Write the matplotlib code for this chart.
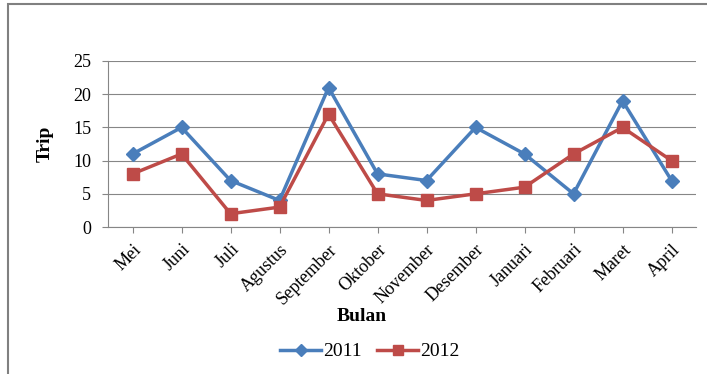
import matplotlib.pyplot as plt
from matplotlib.patches import Rectangle

plt.rcParams['font.family'] = ['Liberation Serif', 'DejaVu Serif']

months = ["Mei", "Juni", "Juli", "Agustus", "September", "Oktober", "November",
          "Desember", "Januari", "Februari", "Maret", "April"]
trip_2011 = [11, 15, 7, 4, 21, 8, 7, 15, 11, 5, 19, 7]
trip_2012 = [8, 11, 2, 3, 17, 5, 4, 5, 6, 11, 15, 10]

fig = plt.figure(figsize=(7.07, 3.74), dpi=100)
ax = fig.add_axes([0.1528, 0.393, 0.8317, 0.4439])

# outer frame of the chart
fig.patches.append(Rectangle((0.012, -0.05), 1.1, 1.04, transform=fig.transFigure,
                             fill=False, edgecolor="#808080", linewidth=1.5))

x = range(len(months))
ax.plot(x, trip_2011, color="#4A7EBB", linewidth=2.5, marker="D", markersize=7, label="2011")
ax.plot(x, trip_2012, color="#BE4B48", linewidth=2.5, marker="s", markersize=8, label="2012")

ax.set_xlim(-0.5, len(months) - 0.5)
ax.set_ylim(0, 25)
ax.set_yticks([0, 5, 10, 15, 20, 25])
ax.set_xticks(list(x))
ax.set_xticklabels(months, rotation=45, ha="right", rotation_mode="anchor", fontsize=13)
ax.tick_params(axis="y", labelsize=13, length=4, color="#868686", pad=8)
ax.tick_params(axis="x", length=4, color="#868686", pad=6)
ax.yaxis.grid(True, color="#868686", linewidth=0.8)
ax.set_axisbelow(True)
for s in ["top", "right"]:
    ax.spines[s].set_visible(False)
ax.spines["left"].set_color("#868686")
ax.spines["bottom"].set_color("#868686")

fig.text(0.064, 0.615, "Trip", fontsize=14, fontweight="bold", rotation=90,
         ha="center", va="center")
fig.text(0.511, 0.155, "Bulan", fontsize=14, fontweight="bold", ha="center", va="center")

fig.legend(loc="center", bbox_to_anchor=(0.523, 0.06), ncol=2, frameon=False,
           fontsize=14, handlelength=2.1, columnspacing=0.8, handletextpad=0.1,
           markerscale=0.85)

fig.savefig("out.png", dpi=100)
